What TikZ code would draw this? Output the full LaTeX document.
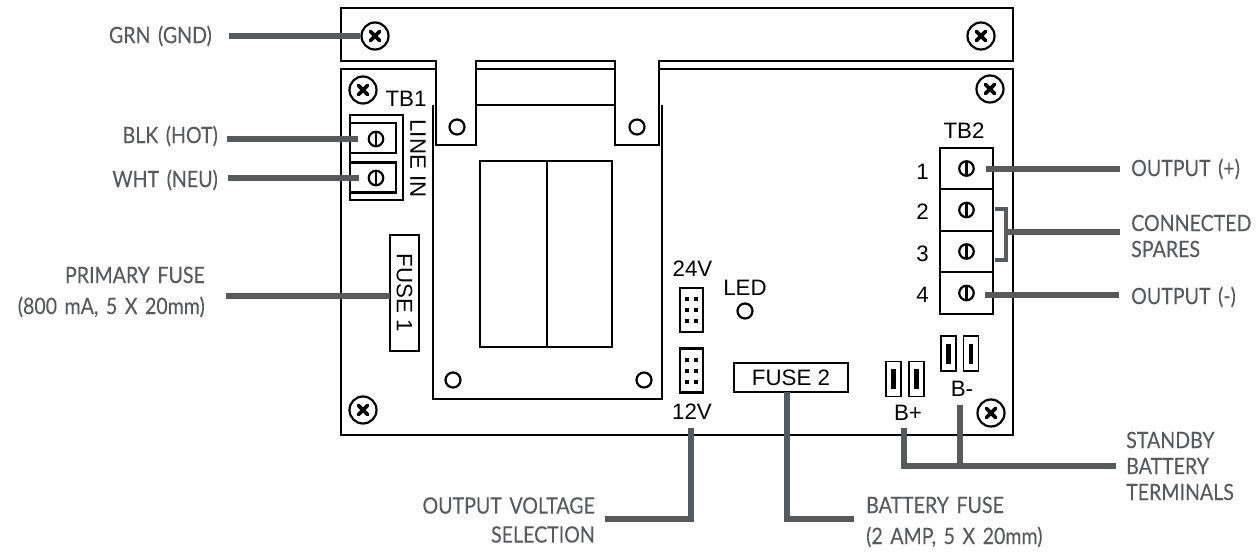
\documentclass[tikz,border=0pt]{standalone}
\usepackage{fontspec}
\setmainfont{Liberation Sans}
\newfontfamily\calloutfont[FakeStretch=0.87,FakeBold=0.12,WordSpace=1.5]{Lato}
\usetikzlibrary{positioning}

\begin{document}
\begin{tikzpicture}
%defines
  [x=1pt,y=-1pt,
part/.style={rectangle,draw=black,line width=2.2pt,inner sep=0pt,outer sep=0pt},
silk/.style={inner sep=0pt,font=\fontsize{22.3}{24}\selectfont},
callout/.style={inner sep=0pt,text=leadgray,font=\calloutfont\fontsize{22.5}{26}\selectfont},
leader/.style={draw=leadgray,line width=6pt},
hole/.style={circle,draw=black,line width=2.2pt,minimum size=15pt,inner sep=0pt},
screw/.style={circle,draw=black,line width=2.2pt,minimum size=27pt,inner sep=0pt,
path picture={\draw[line width=3.8pt,line cap=round]
  ([shift={(-4.5,-4.5)}]path picture bounding box.center) -- ([shift={(4.5,4.5)}]path picture bounding box.center)
  ([shift={(-4.5,4.5)}]path picture bounding box.center) -- ([shift={(4.5,-4.5)}]path picture bounding box.center);}},
slot/.style={circle,draw=black,line width=2.2pt,minimum size=14.5pt,inner sep=0pt,
path picture={\draw[line width=2.2pt] (path picture bounding box.north) -- (path picture bounding box.south);}},
cell/.style={part,minimum width=53pt,minimum height=41.5pt},
lineterm/.style={part,minimum width=46pt,minimum height=30pt},
jumper/.style={part,minimum width=23pt,minimum height=44pt,
path picture={\foreach \a in {-4.5,4.5} \foreach \b in {-11,0,11}
  \fill[black] ([shift={(\a-2,\b-2)}]path picture bounding box.center) rectangle ++(4,4);}},
spade/.style={part,line width=1.8pt,minimum width=15pt,minimum height=35pt,
path picture={\fill[black] ([shift={(-2.2,-10)}]path picture bounding box.center) rectangle ++(4.4,20);}}]
\definecolor{leadgray}{HTML}{58595B}
\useasboundingbox (0,0) rectangle (1256,554);
%chassis
\draw[line width=2.2pt] (341,8) -- (1013,8) -- (1013,61) -- (659,61) -- (659,145) -- (615,145) -- (615,61)
  -- (476,61) -- (476,145) -- (436,145) -- (436,61) -- (341,61) -- cycle;
\draw[line width=2.2pt] (436,69) -- (341,69) -- (341,435) -- (1013,435) -- (1013,69) -- (659,69);
\draw[line width=2.2pt] (476,69) -- (615,69);
\draw[line width=2.2pt] (476,105) -- (615,105);
\draw[line width=2.2pt] (433,105) -- (433,399) -- (662,399) -- (662,105);
\node[part,minimum width=67pt,minimum height=186pt] (relaya) at (513.5,254) {};
\node[part,minimum width=65pt,minimum height=186pt] (relayb) [right=0pt of relaya] {};
%nodes
\node[screw] (gndscrew) at (375,36) {};
\node[screw] (topright) at (981,36) {};
\node[screw] (pcbtl)    at (363,90) {};
\node[screw] (pcbtr)    at (990,89) {};
\node[screw] (pcbbl)    at (363,410) {};
\node[screw] (pcbbr)    at (991,413) {};
\node[hole] (holea) at (457,127) {};
\node[hole] (holeb) at (637,127) {};
\node[hole] (holec) at (453,380) {};
\node[hole] (holed) at (644,380) {};
\node[silk] (tbone) at (406,99) {TB1};
\node[part,minimum width=53pt,minimum height=85pt] (tbonebox) at (376.5,157.5) {};
\node[lineterm] (hot) at (373,138) {};
\node[lineterm] (neu) at (373,177.5) {};
\node[slot] (hotscrew) at (376,139) {};
\node[slot] (neuscrew) at (376,178) {};
\node[silk,rotate=-90] (linein) at (418,158.5) {LINE IN};
\node[part,minimum width=29pt,minimum height=116pt] (fuseone) at (404.5,293) {};
\node[silk,rotate=-90] at (fuseone) {FUSE 1};
\node[cell] (tba) at (966.5,168.5) {};
\node[cell] (tbb) [below=0pt of tba] {};
\node[cell] (tbc) [below=0pt of tbb] {};
\node[cell] (tbd) [below=0pt of tbc] {};
\node[silk] (tbtwo) at (964,131) {TB2};
\foreach \n in {a,b,c,d} \node[slot] (sc\n) at (tb\n) {};
\node[silk,left=11pt of tba,yshift=-3pt] {1};
\node[silk,left=11pt of tbb,yshift=-2pt] {2};
\node[silk,left=11pt of tbc,yshift=-2pt] {3};
\node[silk,left=11pt of tbd,yshift=-2pt] {4};
\node[silk] (twofour) at (692.5,269) {24V};
\node[jumper] (jumpa) at (691.5,310) {};
\node[jumper] (jumpb) at (691.5,370.5) {};
\node[silk] (twelve) at (692,412) {12V};
\node[silk] (ledtext) at (745,288) {LED};
\node[hole] (led) at (745,311) {};
\node[part,minimum width=114pt,minimum height=29pt] (fusetwo) at (791,377.5) {};
\node[silk] at (fusetwo) {FUSE 2};
\node[spade] (bpa) at (893.5,379) {};
\node[spade] (bpb) at (916.5,379) {};
\node[spade] (bma) at (948.5,353.5) {};
\node[spade] (bmb) at (971,353.5) {};
\node[silk] (bplus) at (908,413) {B+};
\node[silk] (bminus) at (962,389) {B-};
%labels
\node[callout,anchor=east] (lgnd) at (212,36) {GRN (GND)};
\node[callout,anchor=east] (lhot) at (218,136) {BLK (HOT)};
\node[callout,anchor=east] (lneu) at (218,180) {WHT (NEU)};
\node[callout,anchor=east,align=right] (lprim) at (205,292) {PRIMARY FUSE\\[5pt](800 mA, 5 X 20mm)};
\node[callout,anchor=east,align=right] (lvolt) at (595,520) {OUTPUT VOLTAGE\\[3pt]SELECTION};
\node[callout,anchor=west,align=left] (lfuse) at (866,522) {BATTERY FUSE\\[5pt](2 AMP, 5 X 20mm)};
\node[callout,anchor=west] (lplus) at (1131,169) {OUTPUT (+)};
\node[callout,anchor=west,align=left] (lspare) at (1131,236) {CONNECTED\\SPARES};
\node[callout,anchor=west] (lminus) at (1131,297) {OUTPUT (-)};
\node[callout,anchor=west,align=left] (lbatt) at (1126,466) {STANDBY\\BATTERY\\TERMINALS};
%links
\coordinate (gndin) at (229,36);
\coordinate (hotin) at (227,138.5);
\coordinate (hotend) at (358,138.5);
\coordinate (neuin) at (228,178);
\coordinate (neuend) at (359,178);
\coordinate (primin) at (226,295.5);
\coordinate (plusin) at (986,169);
\coordinate (minusin) at (985,295);
\coordinate (bracket) at (1006,232);
\coordinate (spareout) at (1120,232);
\coordinate (plusout) at (1120,169);
\coordinate (minusout) at (1119,295);
\coordinate (voltin) at (691,428);
\coordinate (voltout) at (605,519);
\coordinate (fusein) at (787,392);
\coordinate (fuseout) at (854,519);
\coordinate (battout) at (1116,466);
\coordinate (bplusin) at (904,428);
\coordinate (bminusin) at (960,405);
\draw[leader] (gndin) -- (gndscrew.west);
\draw[leader] (hotin) -- (hotend);
\draw[leader] (neuin) -- (neuend);
\draw[leader] (primin) -- (fuseone.west |- primin);
\draw[leader] (plusin) -- (plusout);
\draw[leader] (minusin) -- (minusout);
\draw[leader,line width=3.5pt] (995,209) -- (1006,209) -- (1006,260) -- (995,260);
\draw[leader] (bracket) -- (spareout);
\draw[leader] (voltin) |- (voltout);
\draw[leader] (fusein) |- (fuseout);
\draw[leader] (bplusin) |- (battout);
\draw[leader] (bminusin) -- (bminusin |- battout);
\end{tikzpicture}
\end{document}
